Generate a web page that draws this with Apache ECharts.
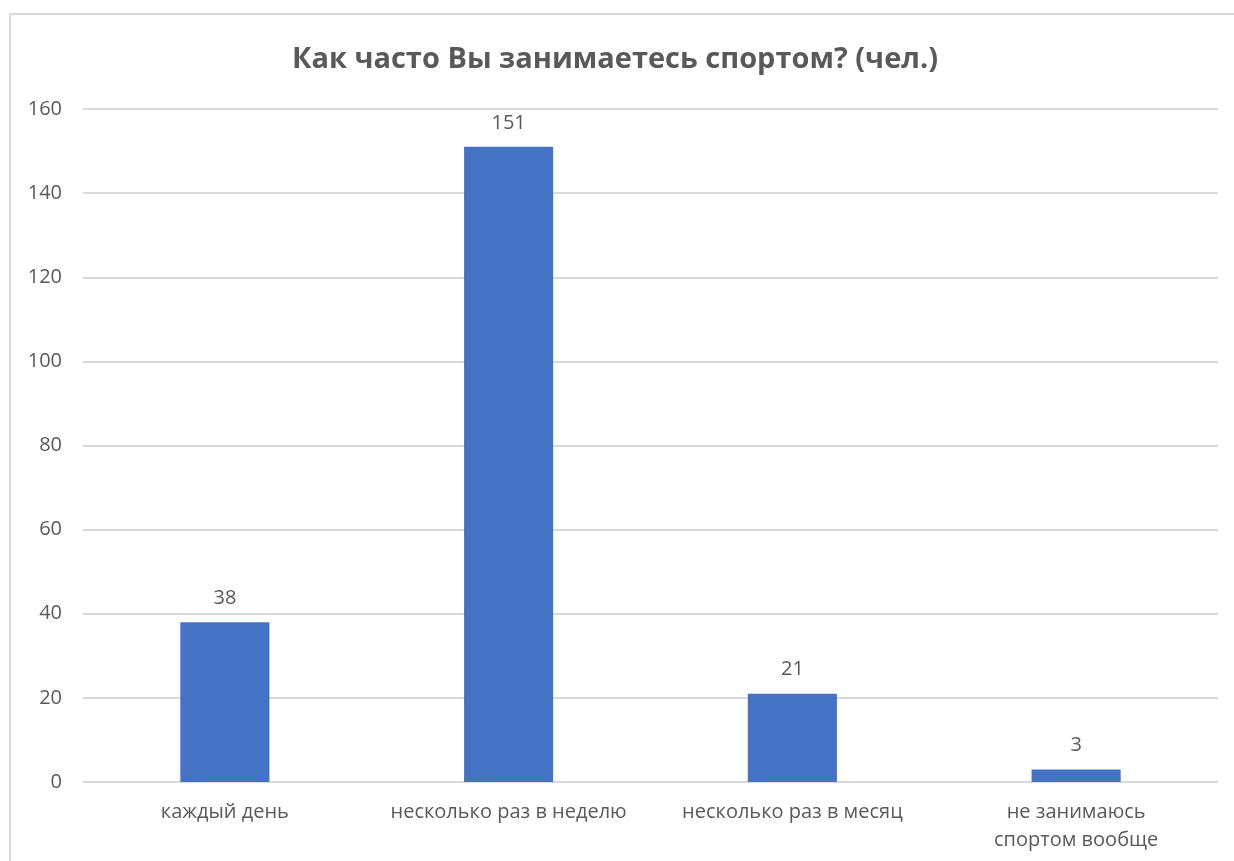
<!DOCTYPE html>
<html>
<head>
<meta charset="utf-8">
<script src="https://cdn.jsdelivr.net/npm/echarts@6/dist/echarts.min.js"></script>
<style>
  html, body { margin: 0; padding: 0; background: #fff; }
  #chart { width: 1234px; height: 861px; }
</style>
</head>
<body>
<div id="chart"></div>
<script>
const titleText = 'Как часто Вы занимаетесь спортом? (чел.)';
const categories = ['каждый день', 'несколько раз в неделю', 'несколько раз в месяц', 'не занимаюсь\nспортом вообще'];
const values = [38, 151, 21, 3];
const yMin = 0, yMax = 160, yStep = 20;

const textColor = '#595959';
const fontFam = '"Open Sans", "Liberation Sans", sans-serif';

const chart = echarts.init(document.getElementById('chart'), null, { renderer: 'canvas' });
chart.setOption({
  animation: false,
  backgroundColor: '#ffffff',
  graphic: [{
    type: 'rect',
    shape: { x: 10, y: 14, width: 1260, height: 900 },
    style: { fill: 'none', stroke: '#d9d9d9', lineWidth: 2 },
    silent: true
  }],
  title: {
    text: titleText,
    left: 610,
    top: 40,
    textAlign: 'center',
    textStyle: { color: textColor, fontFamily: fontFam, fontSize: 29, fontWeight: 'bold' }
  },
  grid: { left: 83, right: 16, top: 109, bottom: 79, containLabel: false },
  xAxis: {
    type: 'category',
    data: categories,
    axisLine: { show: false },
    axisTick: { show: false },
    axisLabel: { color: textColor, fontFamily: fontFam, fontSize: 20, margin: 16, lineHeight: 28, interval: 0 }
  },
  yAxis: {
    type: 'value',
    min: yMin, max: yMax, interval: yStep,
    axisLine: { show: false },
    axisTick: { show: false },
    splitLine: { lineStyle: { color: '#d9d9d9', width: 2 } },
    axisLabel: { color: textColor, fontFamily: fontFam, fontSize: 20, margin: 21 }
  },
  series: [{
    type: 'bar',
    data: values,
    barWidth: '31.4%',
    itemStyle: { color: '#4472c4' },
    label: { show: true, position: 'top', distance: 14, color: textColor, fontFamily: fontFam, fontSize: 20 }
  }]
});
</script>
</body>
</html>
